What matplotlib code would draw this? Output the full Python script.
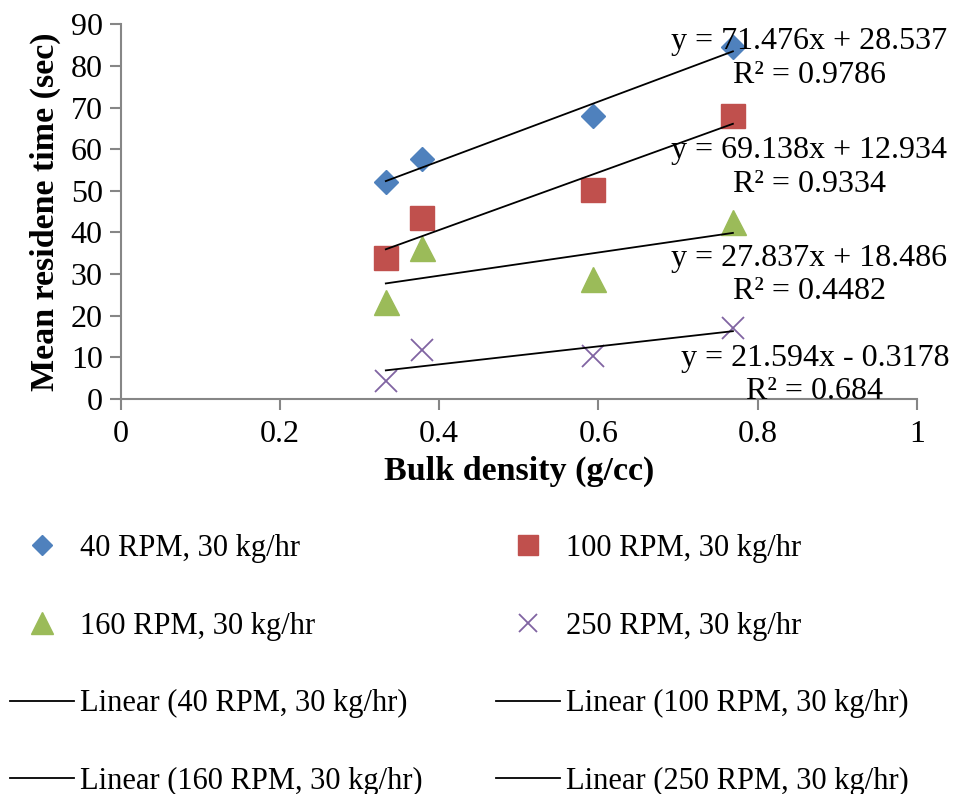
import matplotlib
matplotlib.use("Agg")
import matplotlib.pyplot as plt
import numpy as np

# bulk density (g/cc) - same for every screw speed
density = [0.333, 0.379, 0.593, 0.769]

# mean residence time (sec) for each screw speed
rt_40 = [52.2, 57.6, 68.0, 84.6]
rt_100 = [33.8, 43.4, 50.2, 68.0]
rt_160 = [23.3, 36.2, 28.9, 42.6]
rt_250 = [4.3, 11.8, 10.3, 17.0]

labels = ["40 RPM, 30 kg/hr", "100 RPM, 30 kg/hr", "160 RPM, 30 kg/hr", "250 RPM, 30 kg/hr"]

# trendline coefficients as printed on the chart (slope, intercept, R2)
slopes = [71.476, 69.138, 27.837, 21.594]
intercepts = [28.537, 12.934, 18.486, -0.3178]
r2 = ["0.9786", "0.9334", "0.4482", "0.684"]
eq_text = ["y = 71.476x + 28.537", "y = 69.138x + 12.934",
           "y = 27.837x + 18.486", "y = 21.594x - 0.3178"]
# where the equation labels sit (data coords, centre of the two-line block)
eq_x = [0.865, 0.865, 0.865, 0.872]
eq_y = [81.8, 55.6, 29.8, 5.8]

plt.rcParams["font.family"] = ["Liberation Serif", "DejaVu Serif"]

fig = plt.figure(figsize=(9.55, 7.94), dpi=100)
ax = fig.add_axes([0.1264, 0.4975, 0.8336, 0.4719])

series = [rt_40, rt_100, rt_160, rt_250]
colors = ["#4F81BD", "#C0504D", "#9BBB59", "#8064A2"]
markers = ["D", "s", "^", "x"]
sizes = [12.5, 17, 18, 16]

pts = []
for ys, c, m, s, lab in zip(series, colors, markers, sizes, labels):
    if m == "x":
        h, = ax.plot(density, ys, ls="none", marker=m, ms=s, color=c, mew=1.3, label=lab)
    else:
        h, = ax.plot(density, ys, ls="none", marker=m, ms=s, color=c, mec=c, label=lab)
    pts.append(h)

lines = []
xs = np.array([min(density), max(density)])
for k, b, lab in zip(slopes, intercepts, labels):
    h, = ax.plot(xs, k * xs + b, color="black", lw=1.3, label="Linear (" + lab + ")")
    lines.append(h)

for t, r, x, y in zip(eq_text, r2, eq_x, eq_y):
    ax.text(x, y, t + "\nR² = " + r, ha="center", va="center", fontsize=23,
            multialignment="center", linespacing=1.2, zorder=5)

ax.set_xlim(0, 1)
ax.set_ylim(0, 90)
ax.set_xticks([0, 0.2, 0.4, 0.6, 0.8, 1])
ax.set_xticklabels(["0", "0.2", "0.4", "0.6", "0.8", "1"])
ax.set_yticks(range(0, 91, 10))

for side in ["top", "right"]:
    ax.spines[side].set_visible(False)
for side in ["left", "bottom"]:
    ax.spines[side].set_color("#868686")
    ax.spines[side].set_linewidth(1.5)
ax.tick_params(axis="both", colors="#868686", labelcolor="black", labelsize=23,
               length=8, width=1.5)
ax.tick_params(axis="x", pad=7)
ax.tick_params(axis="y", pad=5)

ax.set_xlabel("Bulk density (g/cc)", fontsize=24.5, fontweight="bold", labelpad=5)
ax.set_ylabel("Mean residene time (sec)", fontsize=24.5, fontweight="bold", labelpad=7)

# legend fills column-first, so order handles to give the row layout of the reference
order = [pts[0], pts[2], lines[0], lines[2], pts[1], pts[3], lines[1], lines[3]]
fig.legend(handles=order, labels=[h.get_label() for h in order], ncol=2,
           loc="upper left", bbox_to_anchor=(0.01, 0.3275), frameon=False,
           fontsize=22, borderpad=0, borderaxespad=0, handlelength=2.1,
           handletextpad=0.2, labelspacing=1.59, columnspacing=2.4, markerscale=0.85)

fig.savefig("out.png", dpi=100)
